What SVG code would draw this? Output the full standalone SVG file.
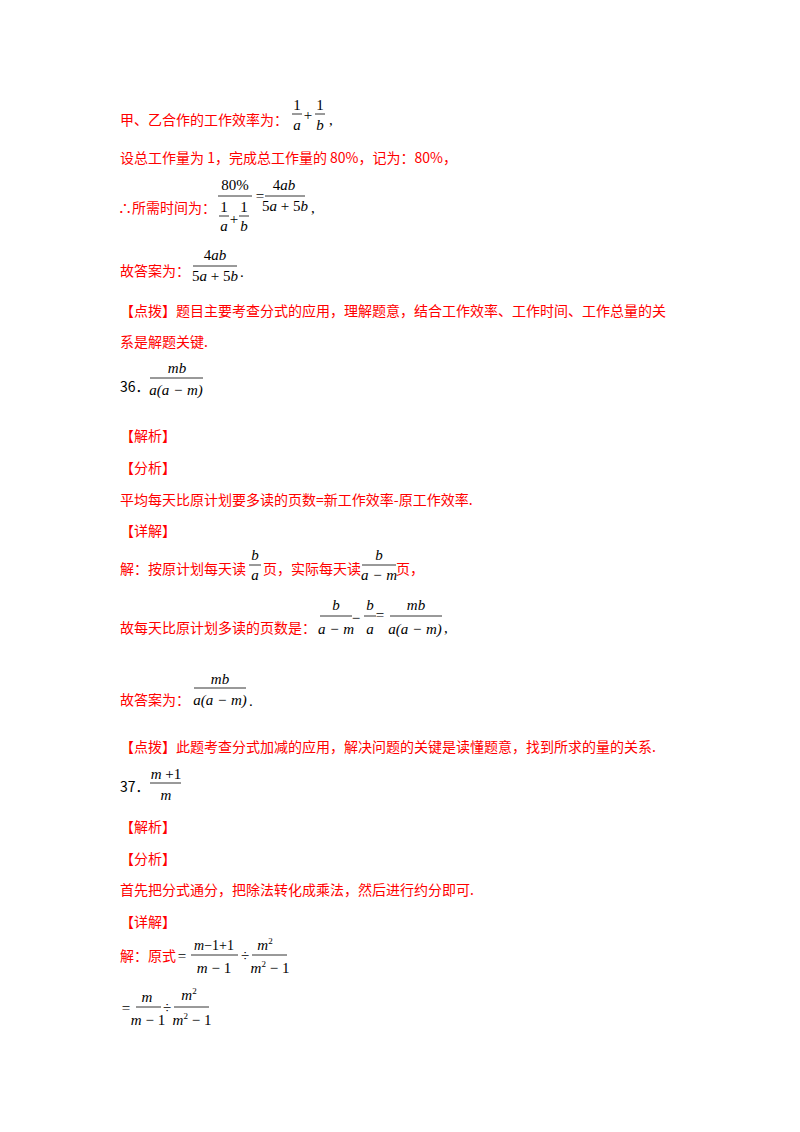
<svg xmlns="http://www.w3.org/2000/svg" width="800" height="1132" viewBox="0 0 800 1132">
<style>
.r{fill:#ff0000;font-family:"Noto Sans CJK SC",sans-serif;font-size:14px}
.b{fill:#000;font-family:"Noto Sans CJK SC",sans-serif;font-size:14px}
.m{fill:#000;font-family:"Liberation Serif",serif;font-size:15px}
.i{font-style:italic}
.c{text-anchor:middle}
line{stroke:#000;stroke-width:0.8}
</style>
<rect width="800" height="1132" fill="#fff"/>
<text class="r" x="120" y="125">甲、乙合作的工作效率为：</text>
<g class="m c"><text x="297" y="110">1</text><line x1="292" y1="114" x2="302" y2="114"/><text x="297" y="130" class="i">a</text>
<text x="308" y="120">+</text>
<text x="320" y="110">1</text><line x1="315" y1="114" x2="325" y2="114"/><text x="320" y="130" class="i">b</text></g>
<text class="m" x="329" y="125">,</text>
<text class="r" x="120" y="163">设总工作量为 1，完成总工作量的 80%，记为：80%，</text>
<text class="r" x="118" y="213">∴所需时间为：</text>
<g class="m c"><text x="235" y="190">80%</text><line x1="218" y1="196" x2="252" y2="196"/>
<text x="224" y="212">1</text><line x1="219" y1="216" x2="229" y2="216"/><text x="224" y="231" class="i">a</text>
<text x="234" y="224">+</text>
<text x="244" y="212">1</text><line x1="239" y1="216" x2="249" y2="216"/><text x="244" y="231" class="i">b</text>
<text x="260" y="201">=</text>
<text x="284" y="190">4<tspan class="i">ab</tspan></text><line x1="265" y1="196" x2="305" y2="196"/>
<text x="285" y="211">5<tspan class="i">a</tspan> + 5<tspan class="i">b</tspan></text></g>
<text class="m" x="311" y="213">,</text>
<text class="r" x="120" y="276">故答案为：</text>
<g class="m c"><text x="215" y="260">4<tspan class="i">ab</tspan></text><line x1="193" y1="266" x2="237" y2="266"/>
<text x="215" y="281">5<tspan class="i">a</tspan> + 5<tspan class="i">b</tspan></text></g>
<text class="m" x="240" y="277">.</text>
<text class="r" x="120" y="316">【点拨】题目主要考查分式的应用，理解题意，结合工作效率、工作时间、工作总量的关</text>
<text class="r" x="120" y="347">系是解题关键.</text>
<text class="b" x="120" y="392">36．</text>
<g class="m c"><text x="177" y="373" class="i">mb</text><line x1="150" y1="378" x2="203" y2="378"/>
<text x="176" y="395" class="i">a(a − m)</text></g>
<text class="r" x="120" y="441">【解析】</text>
<text class="r" x="120" y="473">【分析】</text>
<text class="r" x="120" y="505">平均每天比原计划要多读的页数=新工作效率-原工作效率.</text>
<text class="r" x="120" y="536">【详解】</text>
<text class="r" x="120" y="574">解：按原计划每天读</text>
<g class="m c"><text x="255" y="560" class="i">b</text><line x1="249" y1="565" x2="261" y2="565"/><text x="255" y="580" class="i">a</text></g>
<text class="r" x="263" y="574">页，实际每天读</text>
<g class="m c"><text x="379" y="560" class="i">b</text><line x1="362" y1="565" x2="396" y2="565"/><text x="379" y="580" class="i">a − m</text></g>
<text class="r" x="396" y="574">页，</text>
<text class="r" x="120" y="633">故每天比原计划多读的页数是：</text>
<g class="m c"><text x="336" y="610" class="i">b</text><line x1="320" y1="616" x2="352" y2="616"/><text x="336" y="634" class="i">a − m</text>
<text x="356" y="623">−</text>
<text x="370" y="610" class="i">b</text><line x1="364" y1="616" x2="376" y2="616"/><text x="370" y="634" class="i">a</text>
<text x="380" y="620">=</text>
<text x="416" y="610" class="i">mb</text><line x1="390" y1="616" x2="442" y2="616"/><text x="415" y="634" class="i">a(a − m)</text></g>
<text class="m" x="444" y="633">,</text>
<text class="r" x="120" y="705">故答案为：</text>
<g class="m c"><text x="220" y="684" class="i">mb</text><line x1="194" y1="688" x2="246" y2="688"/><text x="220" y="705" class="i">a(a − m)</text></g>
<text class="m" x="249" y="706">.</text>
<text class="r" x="120" y="752">【点拨】此题考查分式加减的应用，解决问题的关键是读懂题意，找到所求的量的关系.</text>
<text class="b" x="120" y="792">37．</text>
<g class="m c"><text x="166" y="779"><tspan class="i">m</tspan> +1</text><line x1="150" y1="783" x2="181" y2="783"/><text x="166" y="800" class="i">m</text></g>
<text class="r" x="120" y="832">【解析】</text>
<text class="r" x="120" y="864">【分析】</text>
<text class="r" x="120" y="895">首先把分式通分，把除法转化成乘法，然后进行约分即可.</text>
<text class="r" x="120" y="927">【详解】</text>
<text class="r" x="120" y="961">解：原式</text>
<g class="m c"><text x="182" y="961">=</text>
<text x="214" y="950" font-size="14"><tspan class="i">m</tspan>−1+1</text><line x1="191" y1="955" x2="238" y2="955"/><text x="214" y="973"><tspan class="i">m</tspan> − 1</text>
<text x="245" y="961">÷</text>
<text x="265" y="950"><tspan class="i">m</tspan><tspan font-size="9" dy="-6">2</tspan></text><line x1="252" y1="955" x2="287" y2="955"/><text x="270" y="973"><tspan class="i">m</tspan><tspan font-size="9" dy="-6">2</tspan><tspan dy="6"> − 1</tspan></text>
<text x="126" y="1013">=</text>
<text x="147" y="1002" class="i">m</text><line x1="136" y1="1007" x2="161" y2="1007"/><text x="148" y="1025"><tspan class="i">m</tspan> − 1</text>
<text x="167" y="1013">÷</text>
<text x="189" y="1000"><tspan class="i">m</tspan><tspan font-size="9" dy="-6">2</tspan></text><line x1="174" y1="1007" x2="209" y2="1007"/><text x="192" y="1025"><tspan class="i">m</tspan><tspan font-size="9" dy="-6">2</tspan><tspan dy="6"> − 1</tspan></text></g>
</svg>
